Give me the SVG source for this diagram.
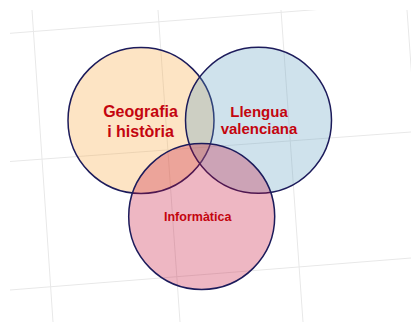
<svg xmlns="http://www.w3.org/2000/svg" width="411" height="322" viewBox="0 0 411 322">
  <defs>
    <clipPath id="gridClip"><rect x="10" y="10" width="401" height="312"/></clipPath>
  </defs>
  <style>
    .grid line { stroke: #e8e8e8; stroke-width: 1; }
    .set { fill-opacity: 0.3; stroke: #1c1b5b; stroke-width: 1.5; }
    .label { font-family: "Liberation Sans", Arial, sans-serif; font-weight: bold; fill: #c4050f; text-anchor: middle; }
  </style>
  <rect x="0" y="0" width="411" height="322" fill="#ffffff"/>
  <g class="grid" clip-path="url(#gridClip)">
    <line x1="10" y1="33.3" x2="320" y2="9.3"/>
    <line x1="10" y1="161.5" x2="411" y2="132"/>
    <line x1="10" y1="290" x2="411" y2="258"/>
    <line x1="32" y1="10" x2="53" y2="322"/>
    <line x1="158" y1="10" x2="180" y2="322"/>
    <line x1="281" y1="10" x2="303" y2="322"/>
    <line x1="407" y1="10" x2="412" y2="80"/>
  </g>
  <g id="geografia">
    <circle class="set" cx="141" cy="120.5" r="73" fill="#f8a53a"/>
    <text class="label" x="140.5" y="116.5" font-size="16">Geografia</text>
    <text class="label" x="140.5" y="136.5" font-size="16">i història</text>
  </g>
  <g id="llengua">
    <circle class="set" cx="258.5" cy="120.3" r="73" fill="#5f9ec0"/>
    <text class="label" x="259" y="117.3" font-size="15">Llengua</text>
    <text class="label" x="259" y="134.3" font-size="15">valenciana</text>
  </g>
  <g id="informatica">
    <circle class="set" cx="201.7" cy="216.5" r="73" fill="#c60f37"/>
    <text class="label" x="197.7" y="220.7" font-size="12.5">Informàtica</text>
  </g>
</svg>
